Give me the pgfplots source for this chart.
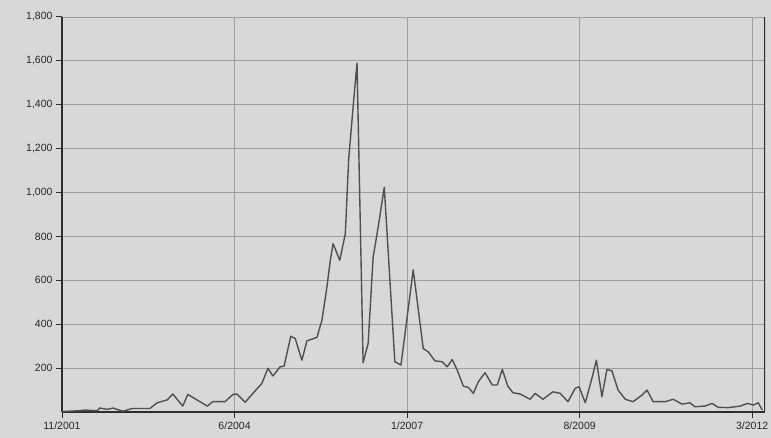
\documentclass[border=0pt]{standalone}
\usepackage{fontspec}
\setmainfont{Liberation Sans}
\usepackage{pgfplots}
\usepackage{pgfplotstable}
\pgfplotsset{compat=1.18}
\definecolor{bg}{RGB}{216,216,216}
\definecolor{gridc}{RGB}{158,158,158}
\definecolor{axc}{RGB}{45,45,45}
\definecolor{linec}{RGB}{80,80,80}
\pgfplotstableread{
m v
0 2
3.2 6
4.1 9
6.3 6
6.8 18
8.1 12
9.2 18
10.1 10
11.0 4
12.6 16
15.8 16
17.1 42
18.9 55
19.9 82
21.7 27
22.6 80
26.1 27
27.1 47
29.3 47
30.7 80
31.4 82
32.9 44
34.3 85
35.9 130
37.0 199
37.9 164
39.2 206
39.9 209
41.1 345
41.9 335
43.1 236
44.0 324
45.8 340
46.7 418
47.6 570
48.2 691
48.7 767
49.9 691
50.9 812
51.5 1150
52.3 1390
53.0 1590
54.1 225
55.0 312
55.9 706
56.8 842
57.9 1024
59.8 229
60.9 214
63.1 648
64.9 289
65.8 274
67.0 233
68.3 229
69.2 206
70.1 239
71.0 191
72.1 118
73.0 112
73.9 85
74.8 138
76.0 179
77.3 123
78.2 123
79.1 194
80.1 118
81.0 88
82.3 82
84.1 58
85.0 85
86.4 58
88.2 92
89.5 85
90.9 47
92.2 108
92.9 115
94.0 42
95.2 153
96.0 236
97.0 70
97.9 194
98.8 188
99.9 100
101.2 58
102.6 47
104.2 77
105.1 100
106.2 47
108.4 47
109.8 58
111.4 36
112.8 42
113.7 24
115.5 27
116.8 39
117.9 21
119.7 20
121.9 27
123.1 39
124.2 32
125.1 42
125.8 9
}\datatable
\begin{document}
\begin{tikzpicture}[x=1pt,y=1pt]
\fill[bg] (0,0) rectangle (771,438);
\begin{axis}[
  at={(62pt,26pt)}, anchor=south west,
  scale only axis, width=703pt, height=395pt,
  xmin=0, xmax=126.3, ymin=0, ymax=1800,
  axis x line=bottom, axis y line=left,
  axis line style={-, line width=2pt, axc},
  xtick={0,31,62,93,124},
  xticklabels={11/2001,6/2004,1/2007,8/2009,3/2012},
  ytick={200,400,...,1800},
  grid=major,
  major grid style={gridc, line width=0.9pt},
  tick style={axc, line width=1pt},
  tick align=outside,
  major tick length=6pt,
  ticklabel style={font=\fontsize{10.5}{12}\selectfont, text=black!85},
  yticklabel style={/pgf/number format/1000 sep={,}},
  /pgf/number format/assume math mode=true,
]
\addplot[linec, line width=1.4pt, no marks, line join=round] table[x=m, y=v] {\datatable};
\draw[axc, line width=2pt] (rel axis cs:1,0) -- (rel axis cs:1,1);
\end{axis}
\pgfresetboundingbox
\path[use as bounding box] (0,0) rectangle (771,438);
\end{tikzpicture}
\end{document}
